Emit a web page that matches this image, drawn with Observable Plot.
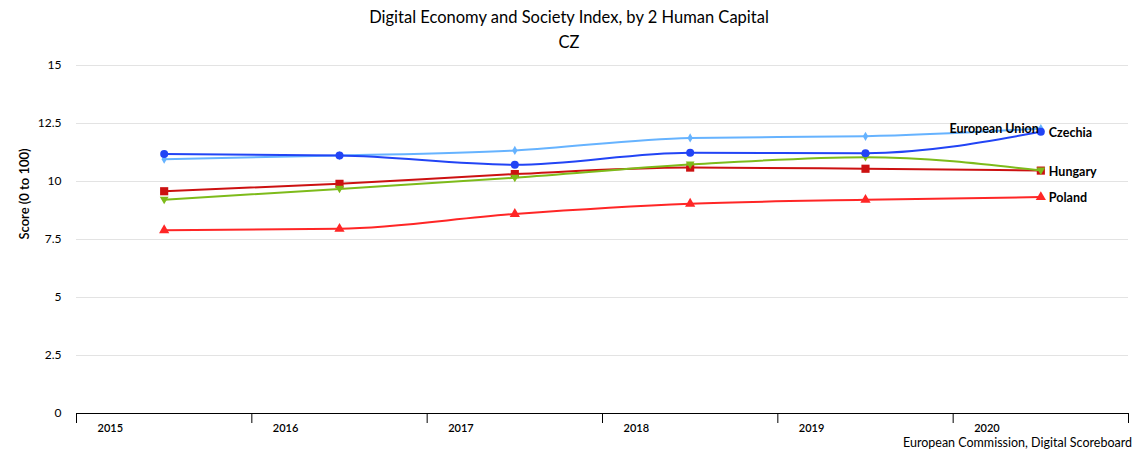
<!DOCTYPE html>
<html>
<head>
<meta charset="utf-8">
<script src="https://cdn.jsdelivr.net/npm/d3@7"></script>
<script src="https://cdn.jsdelivr.net/npm/@observablehq/plot@0.6"></script>
<style>
  body { margin: 0; background: #fff; width: 1138px; height: 450px; overflow: hidden; font-family: Lato, "Open Sans", sans-serif; color: #000; }
  #title { text-align: center; font-size: 16.5px; height: 22px; line-height: 22px; padding-top: 6px; }
  #sub { text-align: center; font-size: 16.5px; height: 22px; line-height: 22px; margin-top: 3px; }
  #chart svg { display: block; }
  #caption { text-align: right; font-size: 12.5px; height: 15px; line-height: 15px; padding-right: 6px; }
</style>
</head>
<body>
<div id="title">Digital Economy and Society Index, by 2 Human Capital</div>
<div id="sub">CZ</div>
<div id="chart"></div>
<div id="caption">European Commission, Digital Scoreboard</div>
<script>
const years = [2015, 2016, 2017, 2018, 2019, 2020];
const czechia  = [11.18, 11.12, 10.72, 11.24, 11.22, 12.14];
const eu       = [10.96, 11.12, 11.34, 11.88, 11.95, 12.28];
const hungary  = [9.21, 9.68, 10.16, 10.73, 11.05, 10.47];
const slovakia = [9.58, 9.90, 10.32, 10.60, 10.55, 10.47];
const poland   = [7.90, 7.96, 8.60, 9.04, 9.21, 9.33];
const yTicks = [0, 2.5, 5, 7.5, 10, 12.5, 15];
const yearBoundaries = [2014.5, 2015.5, 2016.5, 2017.5, 2018.5, 2019.5, 2020.5];

const triangleDown = {
  draw(context, size) {
    const r = Math.sqrt(size / Math.PI);
    context.moveTo(-r, -r * 0.7);
    context.lineTo(r, -r * 0.7);
    context.lineTo(0, r * 1.0);
    context.closePath();
  }
};

const series = [
  {name: "Poland", values: poland, color: "#ff2626", symbol: "triangle", r: 3.8, label: "Poland"},
  {name: "Slovakia", values: slovakia, color: "#cc1111", symbol: "square", r: 4.6, label: null},
  {name: "Hungary", values: hungary, color: "#7dbb1a", symbol: triangleDown, r: 4.4, label: "Hungary"},
  {name: "European Union", values: eu, color: "#66b3ff", symbol: "diamond", r: 2.8, label: "European Union"},
  {name: "Czechia", values: czechia, color: "#2244f5", symbol: "circle", r: 4.0, label: "Czechia"}
];

const marks = [];
marks.push(Plot.ruleY(yTicks.filter(d => d > 0), {stroke: "#e3e3e3", strokeWidth: 1}));
marks.push(Plot.ruleY([0], {stroke: "#000", strokeWidth: 1}));

for (const s of series) {
  const data = years.map((y, i) => ({year: y, value: s.values[i]}));
  marks.push(Plot.line(data, {x: "year", y: "value", stroke: s.color, strokeWidth: 2, curve: "monotone-x"}));
  marks.push(Plot.dot(data, {x: "year", y: "value", fill: s.color, stroke: "none", symbol: s.symbol, r: s.r}));
}

// end labels
const last = years.length - 1;
const rightLabels = series.filter(s => s.label && s.name !== "European Union")
  .map(s => ({year: years[last], value: s.values[last], text: s.label}));
marks.push(Plot.text(rightLabels, {x: "year", y: "value", text: "text", textAnchor: "start", dx: 8, dy: 1, fontSize: 12.5, fontWeight: "bold", fill: "#000"}));
const euLabel = [{year: years[last], value: eu[last], text: "European Union"}];
marks.push(Plot.text(euLabel, {x: "year", y: "value", text: "text", textAnchor: "end", dx: -2, dy: 0, fontSize: 12.5, fontWeight: "bold", fill: "#000"}));

// x tick labels, left-aligned in each year band
marks.push(Plot.text(years, {x: d => d - 0.5, y: () => 0, text: d => String(d), textAnchor: "start", dx: 21, dy: 15, fontSize: 11, fontWeight: 600, fill: "#000"}));

// y axis title
marks.push(Plot.text(["Score (0 to 100)"], {frameAnchor: "left", text: d => d, rotate: -90, dx: -52, fontSize: 13, fontWeight: 600, fill: "#000"}));

const chart = Plot.plot({
  width: 1138,
  height: 382,
  marginLeft: 76,
  marginRight: 10,
  marginTop: 12,
  marginBottom: 22,
  style: {fontFamily: "Lato, 'Open Sans', sans-serif", fontSize: "12px", color: "#000", background: "#fff"},
  x: {type: "linear", domain: [2014.5, 2020.5], ticks: yearBoundaries, tickSize: 10, tickFormat: () => "", label: null},
  y: {domain: [0, 15], ticks: yTicks, tickSize: 0, tickPadding: 15, label: null, tickFormat: d => String(d)},
  marks
});
document.getElementById("chart").appendChild(chart);
</script>
</body>
</html>
